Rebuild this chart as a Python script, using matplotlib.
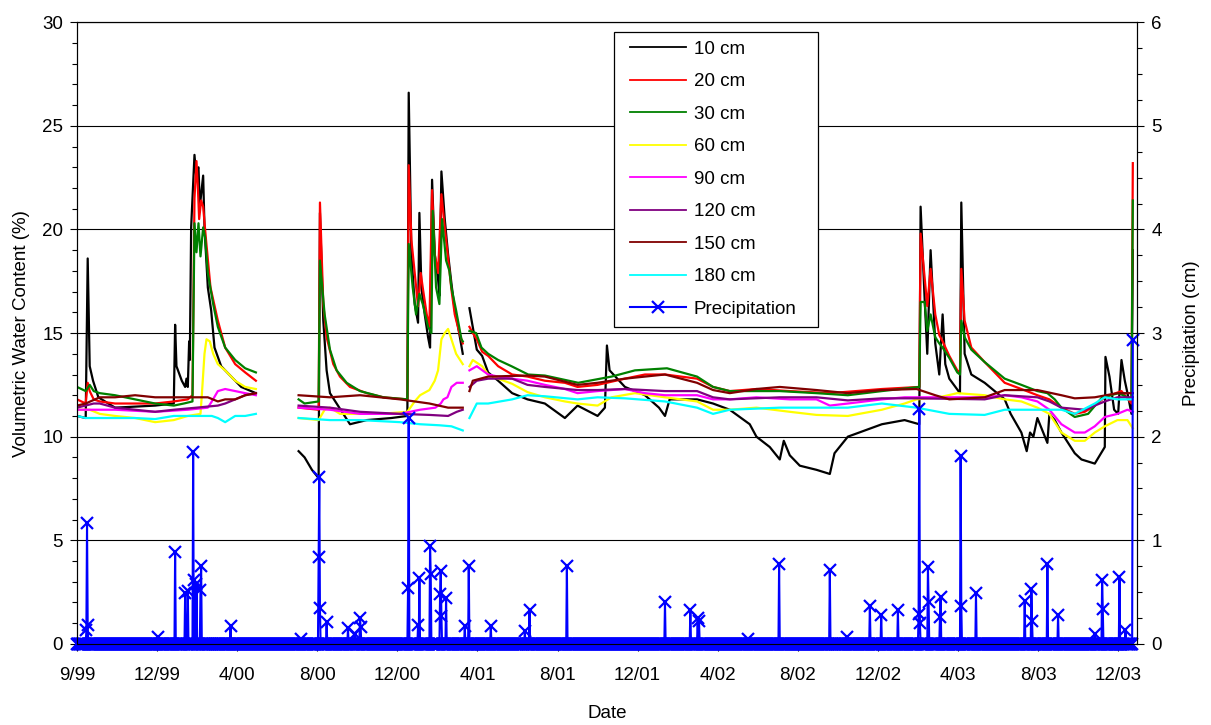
import numpy as np
import pandas as pd
import matplotlib
matplotlib.use("Agg")
import matplotlib.pyplot as plt
from matplotlib.ticker import MultipleLocator
from matplotlib.patches import Rectangle

plt.rcParams['font.family'] = 'Liberation Sans'
plt.rcParams['font.size'] = 13.5

# volumetric water content (%), (date, value)
vwc_10cm = [
    ("1999-09-01", 11.0), ("1999-09-14", 10.9), ("1999-09-17", 18.6), ("1999-09-20", 13.4),
    ("1999-09-25", 12.7), ("1999-10-03", 11.9), ("1999-10-28", 11.4), ("1999-12-27", 11.5),
    ("2000-01-24", 11.6), ("2000-01-26", 15.4), ("2000-01-28", 13.4), ("2000-02-05", 12.7),
    ("2000-02-10", 12.4), ("2000-02-12", 12.8), ("2000-02-14", 12.4), ("2000-02-16", 14.6),
    ("2000-02-17", 13.7), ("2000-02-19", 20.1), ("2000-02-24", 23.6), ("2000-02-27", 22.4),
    ("2000-02-28", 22.9), ("2000-03-01", 23.0), ("2000-03-03", 21.1), ("2000-03-08", 22.6),
    ("2000-03-10", 20.1), ("2000-03-15", 17.2), ("2000-03-20", 16.1), ("2000-03-25", 14.3),
    ("2000-04-04", 13.4), ("2000-04-19", 12.9), ("2000-05-04", 12.4), ("2000-05-26", 12.1),
    ("2000-07-29", 9.3), ("2000-08-07", 9.0), ("2000-08-18", 8.4), ("2000-08-28", 8.0),
    ("2000-08-30", 20.8), ("2000-09-04", 15.6), ("2000-09-09", 13.2), ("2000-09-14", 12.1),
    ("2000-09-24", 11.6), ("2000-10-14", 10.6), ("2000-11-08", 10.8), ("2000-12-15", 10.9),
    ("2001-01-08", 11.0), ("2001-01-10", 26.6), ("2001-01-14", 18.8), ("2001-01-19", 16.4),
    ("2001-01-24", 15.5), ("2001-01-26", 20.8), ("2001-01-29", 17.2), ("2001-02-03", 15.9),
    ("2001-02-08", 14.8), ("2001-02-11", 14.3), ("2001-02-14", 22.4), ("2001-02-18", 18.8),
    ("2001-02-23", 17.6), ("2001-02-25", 16.8), ("2001-02-28", 22.8), ("2001-03-05", 20.5),
    ("2001-03-10", 18.8), ("2001-03-15", 17.4), ("2001-03-20", 16.1), ("2001-03-25", 15.3),
    ("2001-04-01", 14.0),
    ("2001-04-11", 16.2), ("2001-04-16", 15.3), ("2001-04-22", 14.2), ("2001-04-30", 13.9),
    ("2001-05-09", 13.1), ("2001-05-24", 12.7), ("2001-06-14", 12.1), ("2001-07-07", 11.8),
    ("2001-08-02", 11.6), ("2001-09-01", 10.9), ("2001-09-20", 11.5), ("2001-10-20", 11.0),
    ("2001-10-31", 11.4), ("2001-11-03", 14.4), ("2001-11-07", 13.2), ("2001-11-30", 12.4),
    ("2001-12-30", 12.0), ("2002-01-20", 11.4), ("2002-01-29", 11.0), ("2002-02-05", 11.8),
    ("2002-03-18", 11.8), ("2002-04-11", 11.6),
    ("2002-05-06", 11.3), ("2002-05-21", 10.95), ("2002-06-05", 10.6), ("2002-06-15", 10.0),
    ("2002-07-05", 9.5), ("2002-07-20", 8.9), ("2002-07-26", 9.8), ("2002-08-04", 9.1),
    ("2002-08-19", 8.6), ("2002-09-13", 8.4), ("2002-10-03", 8.2), ("2002-10-10", 9.2),
    ("2002-10-30", 10.0), ("2002-12-20", 10.6), ("2003-01-23", 10.8), ("2003-02-14", 10.6),
    ("2003-02-16", 21.1), ("2003-02-22", 16.7), ("2003-02-26", 14.0), ("2003-03-03", 19.0),
    ("2003-03-10", 14.5), ("2003-03-16", 13.0), ("2003-03-21", 15.9), ("2003-03-25", 13.5),
    ("2003-03-31", 12.8), ("2003-04-16", 12.1), ("2003-04-18", 21.3), ("2003-04-23", 14.0),
    ("2003-05-03", 13.0), ("2003-05-23", 12.6), ("2003-06-22", 11.8), ("2003-07-01", 11.1),
    ("2003-07-17", 10.2), ("2003-07-25", 9.3), ("2003-07-30", 10.2), ("2003-08-04", 10.0),
    ("2003-08-10", 10.9), ("2003-08-15", 10.5), ("2003-08-25", 9.7), ("2003-08-28", 11.1),
    ("2003-09-05", 10.8), ("2003-09-15", 10.2), ("2003-09-25", 9.7), ("2003-10-05", 9.2),
    ("2003-10-15", 8.9), ("2003-11-04", 8.7), ("2003-11-19", 9.5), ("2003-11-20", 13.85),
    ("2003-11-26", 12.9), ("2003-12-03", 11.3), ("2003-12-09", 11.1), ("2003-12-14", 13.7),
    ("2003-12-19", 12.7), ("2003-12-23", 12.1), ("2003-12-29", 11.1), ("2003-12-31", 19.0),
]

vwc_20cm = [
    ("1999-09-01", 11.8), ("1999-09-14", 11.6), ("1999-09-17", 12.6), ("1999-09-20", 12.2),
    ("1999-09-26", 11.8), ("1999-10-05", 11.7), ("1999-10-28", 11.6), ("1999-12-27", 11.6),
    ("2000-01-24", 11.7), ("2000-02-14", 11.8), ("2000-02-21", 12.0), ("2000-02-24", 21.5),
    ("2000-02-27", 23.3), ("2000-02-29", 22.1), ("2000-03-02", 20.5), ("2000-03-05", 21.4),
    ("2000-03-08", 21.1), ("2000-03-12", 19.6), ("2000-03-19", 17.2), ("2000-03-30", 15.6),
    ("2000-04-10", 14.3), ("2000-04-25", 13.5), ("2000-05-10", 13.1), ("2000-05-26", 12.7),
    ("2000-07-29", 11.4), ("2000-08-28", 11.3), ("2000-08-30", 21.3), ("2000-09-04", 16.4),
    ("2000-09-09", 14.8), ("2000-09-19", 13.5), ("2000-09-29", 12.9), ("2000-10-14", 12.4),
    ("2000-11-08", 12.1), ("2000-12-03", 11.9), ("2001-01-08", 11.8), ("2001-01-10", 23.1),
    ("2001-01-14", 19.5), ("2001-01-19", 17.9), ("2001-01-24", 16.3), ("2001-01-28", 17.9),
    ("2001-01-31", 17.2), ("2001-02-06", 15.9), ("2001-02-10", 15.3), ("2001-02-14", 21.9),
    ("2001-02-18", 18.8), ("2001-02-23", 17.9), ("2001-02-28", 21.7), ("2001-03-05", 20.1),
    ("2001-03-10", 18.6), ("2001-03-15", 17.1), ("2001-03-20", 15.9), ("2001-03-27", 15.0),
    ("2001-04-01", 14.5),
    ("2001-04-11", 15.3), ("2001-04-16", 15.0), ("2001-04-22", 14.7), ("2001-04-30", 14.1),
    ("2001-05-09", 13.9), ("2001-05-24", 13.4), ("2001-06-14", 13.0), ("2001-07-07", 12.9),
    ("2001-08-02", 12.7), ("2001-09-01", 12.6), ("2001-09-20", 12.4), ("2001-10-20", 12.5),
    ("2001-11-30", 12.8), ("2001-12-30", 13.0), ("2002-01-29", 13.0), ("2002-03-18", 12.8),
    ("2002-04-11", 12.4), ("2002-05-06", 12.2), ("2002-06-15", 12.3), ("2002-08-04", 12.2),
    ("2002-10-03", 12.1), ("2002-12-20", 12.3), ("2003-02-14", 12.4), ("2003-02-16", 19.8),
    ("2003-02-22", 17.7), ("2003-02-26", 16.3), ("2003-03-03", 18.1), ("2003-03-10", 15.9),
    ("2003-03-16", 14.9), ("2003-03-21", 14.6), ("2003-03-31", 13.9), ("2003-04-12", 13.2),
    ("2003-04-16", 13.1), ("2003-04-18", 18.1), ("2003-04-23", 15.6), ("2003-05-03", 14.3),
    ("2003-05-23", 13.6), ("2003-06-22", 12.6), ("2003-07-17", 12.3), ("2003-08-10", 12.0),
    ("2003-08-28", 11.8), ("2003-09-15", 11.4), ("2003-10-05", 11.1), ("2003-10-20", 11.2),
    ("2003-11-04", 11.5), ("2003-11-19", 11.9), ("2003-12-14", 12.2), ("2003-12-29", 11.6),
    ("2003-12-31", 23.2),
]

vwc_30cm = [
    ("1999-09-01", 12.4), ("1999-09-14", 12.2), ("1999-09-20", 12.5), ("1999-09-26", 12.2),
    ("1999-10-05", 12.1), ("1999-10-28", 12.0), ("1999-11-27", 11.8), ("1999-12-27", 11.6),
    ("2000-01-24", 11.5), ("2000-02-08", 11.6), ("2000-02-21", 11.7), ("2000-02-24", 20.3),
    ("2000-02-27", 18.9), ("2000-03-01", 20.3), ("2000-03-04", 18.7), ("2000-03-08", 20.1),
    ("2000-03-11", 19.6), ("2000-03-15", 17.9), ("2000-03-23", 16.4), ("2000-03-30", 15.3),
    ("2000-04-10", 14.3), ("2000-04-25", 13.7), ("2000-05-10", 13.3), ("2000-05-26", 13.1),
    ("2000-07-29", 11.8), ("2000-08-07", 11.6), ("2000-08-28", 11.7), ("2000-08-30", 18.5),
    ("2000-09-06", 15.9), ("2000-09-14", 14.2), ("2000-09-24", 13.2), ("2000-10-09", 12.6),
    ("2000-10-29", 12.2), ("2000-12-03", 11.9), ("2001-01-08", 11.8), ("2001-01-10", 19.3),
    ("2001-01-16", 17.2), ("2001-01-21", 15.9), ("2001-01-26", 16.9), ("2001-01-31", 16.4),
    ("2001-02-08", 15.3), ("2001-02-13", 15.0), ("2001-02-15", 20.9), ("2001-02-20", 17.2),
    ("2001-02-25", 16.4), ("2001-03-01", 20.5), ("2001-03-07", 18.5), ("2001-03-12", 18.0),
    ("2001-03-15", 17.2), ("2001-03-22", 16.1), ("2001-03-30", 14.7), ("2001-04-01", 14.6),
    ("2001-04-11", 15.1), ("2001-04-21", 15.0), ("2001-04-29", 14.3), ("2001-05-09", 14.0),
    ("2001-05-24", 13.7), ("2001-06-13", 13.4), ("2001-07-08", 13.0), ("2001-08-02", 12.95),
    ("2001-09-21", 12.6), ("2001-11-10", 12.9), ("2001-12-15", 13.2), ("2002-02-01", 13.3),
    ("2002-03-18", 12.9), ("2002-04-11", 12.4), ("2002-05-06", 12.2), ("2002-07-20", 12.2),
    ("2002-09-13", 12.1), ("2002-10-30", 12.0), ("2002-12-20", 12.2), ("2003-02-14", 12.4),
    ("2003-02-16", 16.5), ("2003-02-22", 16.5), ("2003-02-26", 15.1), ("2003-03-03", 15.9),
    ("2003-03-10", 14.8), ("2003-03-16", 14.5), ("2003-03-21", 14.3), ("2003-03-31", 13.8),
    ("2003-04-12", 13.1), ("2003-04-16", 13.0), ("2003-04-18", 15.6), ("2003-04-23", 14.8),
    ("2003-05-03", 14.2), ("2003-05-23", 13.6), ("2003-06-22", 12.8), ("2003-07-17", 12.5),
    ("2003-08-10", 12.2), ("2003-08-25", 12.1), ("2003-09-05", 11.8), ("2003-09-15", 11.4),
    ("2003-10-05", 10.95), ("2003-10-25", 11.1), ("2003-11-15", 11.9), ("2003-12-10", 12.1),
    ("2003-12-29", 11.8), ("2003-12-31", 21.4),
]

vwc_60cm = [
    ("1999-09-01", 11.3), ("1999-09-20", 11.3), ("1999-10-05", 11.1), ("1999-10-28", 11.0),
    ("1999-11-27", 10.9), ("1999-12-27", 10.7), ("2000-01-24", 10.8), ("2000-02-14", 11.0),
    ("2000-03-04", 11.1), ("2000-03-06", 12.0), ("2000-03-10", 14.0), ("2000-03-13", 14.7),
    ("2000-03-18", 14.6), ("2000-03-23", 14.0), ("2000-03-30", 13.5), ("2000-04-10", 13.2),
    ("2000-04-25", 12.7), ("2000-05-10", 12.4), ("2000-05-26", 12.3),
    ("2000-07-29", 10.9), ("2000-08-28", 10.8), ("2000-09-06", 11.3), ("2000-09-14", 11.4),
    ("2000-09-29", 11.1), ("2000-11-28", 11.1), ("2001-01-08", 11.2), ("2001-01-19", 11.7),
    ("2001-01-27", 12.0), ("2001-02-10", 12.25), ("2001-02-18", 12.7), ("2001-02-23", 13.2),
    ("2001-02-28", 14.7), ("2001-03-05", 15.0), ("2001-03-10", 15.2), ("2001-03-15", 14.7),
    ("2001-03-22", 14.0), ("2001-04-01", 13.5),
    ("2001-04-11", 13.4), ("2001-04-16", 13.7), ("2001-04-30", 13.4), ("2001-05-09", 13.0),
    ("2001-05-24", 12.8), ("2001-06-14", 12.55), ("2001-07-07", 12.15), ("2001-08-02", 11.9),
    ("2001-09-01", 11.7), ("2001-09-20", 11.6), ("2001-10-20", 11.5), ("2001-11-10", 11.9),
    ("2001-12-15", 12.1), ("2002-01-29", 11.9), ("2002-03-18", 11.7), ("2002-04-11", 11.3),
    ("2002-05-06", 11.3), ("2002-06-15", 11.4), ("2002-08-04", 11.2), ("2002-09-13", 11.05),
    ("2002-10-30", 11.0), ("2002-12-20", 11.3), ("2003-01-23", 11.6), ("2003-02-10", 11.8),
    ("2003-03-16", 11.9), ("2003-04-12", 12.1), ("2003-05-23", 12.0), ("2003-06-22", 11.8),
    ("2003-07-17", 11.7), ("2003-08-10", 11.4), ("2003-08-28", 11.1), ("2003-09-15", 10.2),
    ("2003-10-05", 9.8), ("2003-10-20", 9.8), ("2003-11-04", 10.2), ("2003-11-19", 10.5),
    ("2003-12-08", 10.8), ("2003-12-23", 10.8), ("2003-12-31", 10.4),
]

vwc_90cm = [
    ("1999-09-01", 11.3), ("1999-10-28", 11.3), ("1999-12-27", 11.2), ("2000-02-14", 11.3),
    ("2000-03-15", 11.4), ("2000-03-21", 11.7), ("2000-03-30", 12.2), ("2000-04-10", 12.3),
    ("2000-04-25", 12.2), ("2000-05-10", 12.1), ("2000-05-26", 12.0),
    ("2000-07-29", 11.4), ("2000-09-14", 11.3), ("2000-10-29", 11.1), ("2000-12-28", 11.1),
    ("2001-01-27", 11.3), ("2001-02-19", 11.4), ("2001-02-27", 11.6), ("2001-03-03", 11.8),
    ("2001-03-09", 11.9), ("2001-03-15", 12.4), ("2001-03-23", 12.6), ("2001-04-01", 12.6),
    ("2001-04-11", 13.2), ("2001-04-22", 13.4), ("2001-05-09", 13.0), ("2001-05-24", 12.9),
    ("2001-06-14", 12.8), ("2001-07-07", 12.7), ("2001-08-02", 12.5), ("2001-09-01", 12.3),
    ("2001-09-20", 12.1), ("2001-10-20", 12.2), ("2001-11-30", 12.3), ("2001-12-30", 12.1),
    ("2002-01-29", 12.0), ("2002-03-18", 12.0), ("2002-04-11", 11.8), ("2002-05-06", 11.8),
    ("2002-06-15", 11.9), ("2002-08-04", 11.8), ("2002-09-13", 11.8), ("2002-10-03", 11.5),
    ("2002-10-30", 11.6), ("2002-12-20", 11.8), ("2003-01-23", 11.9), ("2003-05-23", 11.9),
    ("2003-06-22", 12.0), ("2003-07-17", 11.9), ("2003-08-10", 11.7), ("2003-08-28", 11.3),
    ("2003-09-15", 10.6), ("2003-10-05", 10.2), ("2003-10-20", 10.2), ("2003-11-04", 10.5),
    ("2003-11-19", 10.95), ("2003-12-08", 11.1), ("2003-12-23", 11.3), ("2003-12-31", 11.2),
]

vwc_120cm = [
    ("1999-09-01", 11.4), ("1999-09-26", 11.6), ("1999-10-05", 11.6), ("1999-10-28", 11.4),
    ("1999-11-27", 11.3), ("1999-12-27", 11.2), ("2000-01-24", 11.3), ("2000-02-27", 11.4),
    ("2000-03-30", 11.5), ("2000-04-10", 11.6), ("2000-04-25", 11.8), ("2000-05-10", 12.0),
    ("2000-05-26", 12.1),
    ("2000-07-29", 11.5), ("2000-09-14", 11.4), ("2000-10-29", 11.2), ("2000-12-28", 11.1),
    ("2001-02-10", 11.05), ("2001-03-10", 11.0), ("2001-03-23", 11.2), ("2001-04-01", 11.3),
    ("2001-04-11", 12.4), ("2001-04-22", 12.7), ("2001-05-09", 12.8), ("2001-06-14", 12.8),
    ("2001-07-07", 12.5), ("2001-08-02", 12.4), ("2001-09-20", 12.25), ("2001-10-20", 12.25),
    ("2001-11-30", 12.3), ("2002-01-29", 12.2), ("2002-03-18", 12.2), ("2002-04-11", 11.9),
    ("2002-05-06", 11.8), ("2002-07-20", 11.9), ("2002-09-13", 11.9), ("2002-10-30", 11.75),
    ("2002-12-20", 11.85), ("2003-02-10", 11.85), ("2003-05-23", 11.8), ("2003-06-22", 12.0),
    ("2003-08-10", 11.9), ("2003-08-28", 11.7), ("2003-09-15", 11.4), ("2003-10-20", 11.3),
    ("2003-11-19", 11.7), ("2003-12-08", 11.9), ("2003-12-31", 11.9),
]

vwc_150cm = [
    ("1999-09-01", 11.5), ("1999-09-14", 11.6), ("1999-10-05", 11.9), ("1999-10-28", 11.9),
    ("1999-11-27", 12.0), ("1999-12-27", 11.9), ("2000-03-15", 11.9), ("2000-03-30", 11.7),
    ("2000-04-10", 11.8), ("2000-04-25", 11.8), ("2000-05-10", 12.0), ("2000-05-26", 12.1),
    ("2000-07-29", 12.0), ("2000-09-14", 11.9), ("2000-10-29", 12.0), ("2000-12-28", 11.8),
    ("2001-02-10", 11.6), ("2001-03-10", 11.4), ("2001-04-01", 11.4),
    ("2001-04-11", 12.2), ("2001-04-16", 12.7), ("2001-05-09", 12.9), ("2001-07-07", 12.95),
    ("2001-08-02", 12.9), ("2001-09-20", 12.5), ("2001-10-20", 12.6), ("2001-11-30", 12.8),
    ("2002-01-29", 13.0), ("2002-03-18", 12.6), ("2002-04-11", 12.25), ("2002-05-06", 12.1),
    ("2002-06-15", 12.3), ("2002-07-20", 12.4), ("2002-09-13", 12.25), ("2002-10-30", 12.1),
    ("2002-12-20", 12.25), ("2003-02-10", 12.3), ("2003-03-10", 12.0), ("2003-03-31", 11.8),
    ("2003-05-23", 11.9), ("2003-06-22", 12.25), ("2003-08-10", 12.25), ("2003-09-15", 12.0),
    ("2003-10-05", 11.85), ("2003-11-04", 11.9), ("2003-12-08", 12.1), ("2003-12-31", 12.1),
]

vwc_180cm = [
    ("1999-09-01", 11.0), ("1999-09-14", 10.9), ("1999-11-27", 10.9), ("1999-12-27", 10.85),
    ("2000-01-24", 11.0), ("2000-03-21", 11.0), ("2000-03-30", 10.9), ("2000-04-10", 10.7),
    ("2000-04-25", 11.0), ("2000-05-10", 11.0), ("2000-05-26", 11.1),
    ("2000-07-29", 10.9), ("2000-09-14", 10.8), ("2000-10-29", 10.8), ("2000-12-28", 10.7),
    ("2001-01-27", 10.6), ("2001-02-25", 10.55), ("2001-03-15", 10.5), ("2001-04-01", 10.3),
    ("2001-04-11", 10.9), ("2001-04-22", 11.6), ("2001-05-09", 11.6), ("2001-06-14", 11.8),
    ("2001-07-07", 12.0), ("2001-08-02", 11.95), ("2001-09-20", 11.8), ("2001-10-20", 11.9),
    ("2001-11-30", 11.85), ("2002-01-29", 11.7), ("2002-03-18", 11.4), ("2002-04-11", 11.1),
    ("2002-05-06", 11.3), ("2002-07-20", 11.4), ("2002-09-13", 11.4), ("2002-10-30", 11.4),
    ("2002-12-20", 11.6), ("2003-02-10", 11.4), ("2003-03-31", 11.1), ("2003-05-23", 11.05),
    ("2003-06-22", 11.3), ("2003-08-10", 11.3), ("2003-09-15", 11.3), ("2003-10-05", 11.1),
    ("2003-11-04", 11.6), ("2003-11-19", 11.9), ("2003-12-08", 11.8), ("2003-12-31", 11.8),
]

# periods with no soil moisture record
gap_dates = ["2000-06-27", "2001-04-06"]

# daily precipitation (cm); all other days in the record are 0
precip_events = [
    ("1999-09-15", 0.13), ("1999-09-16", 1.17), ("1999-09-17", 0.18), ("1999-12-31", 0.07),
    ("2000-01-26", 0.89), ("2000-02-10", 0.49), ("2000-02-14", 0.51), ("2000-02-22", 1.85),
    ("2000-02-24", 0.62), ("2000-02-27", 0.58), ("2000-03-04", 0.52), ("2000-03-05", 0.75),
    ("2000-04-18", 0.17), ("2000-08-02", 0.05), ("2000-08-28", 0.84), ("2000-08-29", 1.61),
    ("2000-08-30", 0.35), ("2000-09-09", 0.21), ("2000-10-11", 0.15), ("2000-10-21", 0.10),
    ("2000-10-29", 0.25), ("2000-10-30", 0.16), ("2001-01-09", 0.54), ("2001-01-10", 2.18),
    ("2001-01-24", 0.18), ("2001-01-26", 0.64), ("2001-02-11", 0.94), ("2001-02-12", 0.67),
    ("2001-02-26", 0.48), ("2001-02-27", 0.70), ("2001-02-28", 0.27), ("2001-03-07", 0.44),
    ("2001-04-04", 0.17), ("2001-04-10", 0.75), ("2001-05-13", 0.17), ("2001-07-03", 0.12),
    ("2001-07-10", 0.33), ("2001-09-04", 0.75), ("2002-01-29", 0.40), ("2002-03-08", 0.33),
    ("2002-03-19", 0.25), ("2002-03-21", 0.22), ("2002-06-02", 0.05), ("2002-07-19", 0.77),
    ("2002-10-03", 0.71), ("2002-10-28", 0.07), ("2002-12-02", 0.37), ("2002-12-19", 0.28),
    ("2003-01-13", 0.33), ("2003-02-13", 0.29), ("2003-02-14", 2.27), ("2003-02-15", 0.20),
    ("2003-02-27", 0.74), ("2003-02-28", 0.40), ("2003-03-17", 0.26), ("2003-03-18", 0.45),
    ("2003-04-17", 1.81), ("2003-04-18", 0.37), ("2003-05-10", 0.49), ("2003-07-22", 0.41),
    ("2003-08-01", 0.53), ("2003-08-02", 0.22), ("2003-08-25", 0.77), ("2003-09-10", 0.28),
    ("2003-11-04", 0.10), ("2003-11-15", 0.62), ("2003-11-16", 0.34), ("2003-12-11", 0.65),
    ("2003-12-20", 0.13), ("2003-12-31", 2.93),
]
precip_start, precip_end = "1999-09-01", "2003-12-31"

depth_labels = ["10 cm", "20 cm", "30 cm", "60 cm", "90 cm", "120 cm", "150 cm", "180 cm"]
depth_colors = ["#000000", "#ff0000", "#008000", "#ffff00", "#ff00ff", "#800080", "#800000", "#00ffff"]
all_depths = [vwc_10cm, vwc_20cm, vwc_30cm, vwc_60cm, vwc_90cm, vwc_120cm, vwc_150cm, vwc_180cm]


def with_gaps(pairs):
    # add a NaN at each gap date so the line breaks there
    pts = [(pd.Timestamp(d), v) for d, v in pairs] + [(pd.Timestamp(g), np.nan) for g in gap_dates]
    pts.sort(key=lambda p: p[0])
    return [p[0] for p in pts], [p[1] for p in pts]


fig = plt.figure(figsize=(12.11, 7.25), dpi=100)
ax = fig.add_axes([0.0636, 0.1119, 0.8757, 0.8574])
ax2 = ax.twinx()

for pairs, lab, col in zip(all_depths, depth_labels, depth_colors):
    x, y = with_gaps(pairs)
    ax.plot(x, y, color=col, lw=1.6, label=lab)

days = pd.date_range(precip_start, precip_end, freq="D")
precip = pd.Series(0.0, index=days)
for d, v in precip_events:
    precip[pd.Timestamp(d)] = v
ax2.plot(precip.index, precip.values, color="#0000ff", lw=1.5, marker="x", ms=8.5,
         mew=1.6, clip_on=False, label="Precipitation")

# axes
ax.set_ylim(0, 30)
ax2.set_ylim(0, 6)
ax.set_xlim(pd.Timestamp("1999-09-01"), pd.Timestamp("2004-01-07"))
ticks = pd.date_range("1999-09-01", periods=14, freq="120D")
ax.set_xticks(ticks)
ax.set_xticklabels([f"{t.month}/{t:%y}" for t in ticks])
ax.yaxis.set_major_locator(MultipleLocator(5))
ax.yaxis.set_minor_locator(MultipleLocator(1))
ax2.yaxis.set_major_locator(MultipleLocator(1))
ax2.yaxis.set_minor_locator(MultipleLocator(0.25))
ax.tick_params(axis="both", which="major", direction="out", length=5, width=0.8, pad=5)
ax.tick_params(axis="x", pad=12)
ax.tick_params(axis="y", which="minor", direction="out", length=3.5, width=0.8)
ax2.tick_params(axis="y", which="major", direction="out", length=5, width=0.8, pad=5)
ax2.tick_params(axis="y", which="minor", direction="out", length=3.5, width=0.8)
ax.yaxis.grid(True, which="major", color="black", lw=0.8)
for a in (ax, ax2):
    for sp in a.spines.values():
        sp.set_linewidth(0.8)

ax.set_xlabel("Date", labelpad=15)
ax.set_ylabel("Volumetric Water Content (%)", labelpad=9)
ax2.set_ylabel("Precipitation (cm)", labelpad=15.5)

# legend box
ax2.add_patch(Rectangle((0.5064, 0.51), 0.1924, 0.474, transform=ax2.transAxes,
                        facecolor="white", edgecolor="black", lw=0.9, zorder=4))
h1, l1 = ax.get_legend_handles_labels()
h2, l2 = ax2.get_legend_handles_labels()
leg = ax2.legend(h1 + h2, l1 + l2, loc="upper left", bbox_to_anchor=(0.5214, 0.9706),
                 frameon=False, borderpad=0, borderaxespad=0, handlelength=3.0,
                 handletextpad=0.4, labelspacing=0.82, numpoints=1)
for line in leg.get_lines()[:8]:
    line.set_linewidth(1.3)
leg.set_zorder(5)

fig.savefig("out.png", dpi=100)
